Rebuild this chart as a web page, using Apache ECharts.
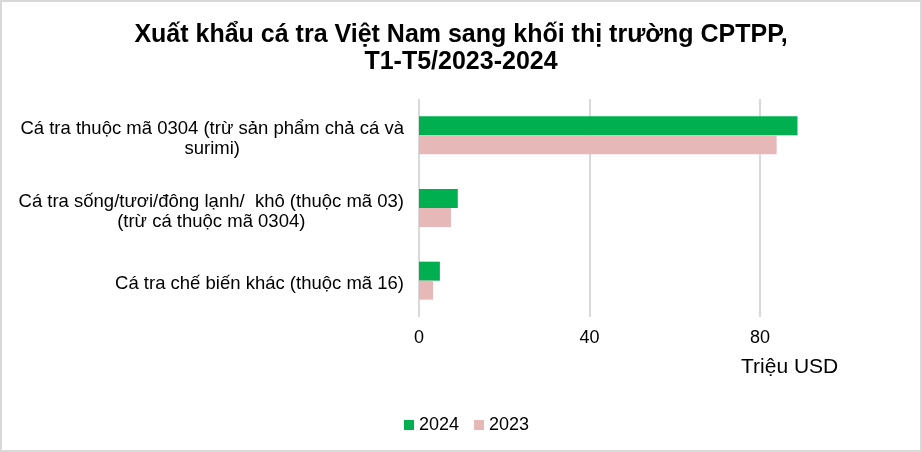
<!DOCTYPE html>
<html>
<head>
<meta charset="utf-8">
<script src="https://cdn.jsdelivr.net/npm/echarts@6/dist/echarts.min.js"></script>
<style>
  html, body { margin: 0; padding: 0; background: #fff; }
  #wrap { position: relative; width: 922px; height: 452px; }
  #chart_bar { width: 922px; height: 452px; }
  #frame { position: absolute; left: 0; top: 0; width: 922px; height: 452px;
           box-sizing: border-box; border: 2px solid #d9d9d9; pointer-events: none; }
</style>
</head>
<body>
<div id="wrap">
  <div id="chart_bar"></div>
  <div id="frame"></div>
</div>
<script>
var categories = [
  'Cá tra thuộc mã 0304 (trừ sản phẩm chả cá và\nsurimi)',
  'Cá tra sống/tươi/đông lạnh/  khô (thuộc mã 03)\n(trừ cá thuộc mã 0304)',
  'Cá tra chế biến khác (thuộc mã 16)'
];
var seriesNames = ['2024', '2023'];
var values2024 = [88.8, 9.1, 4.9];
var values2023 = [83.9, 7.5, 3.3];
var xTicks = { min: 0, max: 100, interval: 40 };

var chartDom = document.getElementById('chart_bar');
var myChart = echarts.init(chartDom);
var font = 'Liberation Sans, Arial, sans-serif';

myChart.setOption({
  backgroundColor: '#fff',
  title: {
    text: 'Xuất khẩu cá tra Việt Nam sang khối thị trường CPTPP,\nT1-T5/2023-2024',
    left: 'center',
    top: 17,
    textStyle: {
      fontFamily: font,
      fontWeight: 'bold',
      fontSize: 25,
      lineHeight: 27,
      color: '#000'
    }
  },
  legend: {
    data: seriesNames,
    left: 399,
    top: 411,
    icon: 'rect',
    itemWidth: 10,
    itemHeight: 10,
    itemGap: 15,
    textStyle: { fontFamily: font, fontSize: 18, color: '#000' }
  },
  grid: { left: 419, top: 99, width: 426.25, height: 218, containLabel: false },
  xAxis: {
    type: 'value',
    min: xTicks.min,
    max: xTicks.max,
    interval: xTicks.interval,
    name: 'Triệu USD',
    nameLocation: 'end',
    nameGap: -7,
    nameTextStyle: {
      fontFamily: font, fontSize: 21, color: '#000',
      align: 'right', verticalAlign: 'top', padding: [40, 0, 0, 0]
    },
    axisLine: { show: false },
    axisTick: { show: false },
    axisLabel: {
      fontFamily: font, fontSize: 18, color: '#000', margin: 12,
      showMaxLabel: false
    },
    splitLine: { show: true, showMaxLine: false, lineStyle: { color: '#d9d9d9', width: 2 } }
  },
  yAxis: {
    type: 'category',
    inverse: true,
    data: categories,
    axisLine: { show: false },
    axisTick: { show: false },
    axisLabel: {
      margin: 15,
      formatter: function (v) { return '{c|' + v + '}'; },
      rich: {
        c: { fontFamily: font, fontSize: 18.5, lineHeight: 20, color: '#000', align: 'center', padding: [7, 0, 0, 0] }
      }
    }
  },
  series: [
    {
      name: seriesNames[0],
      type: 'bar',
      data: values2024,
      barWidth: 19,
      barGap: '0%',
      itemStyle: { color: '#00b050' }
    },
    {
      name: seriesNames[1],
      type: 'bar',
      data: values2023,
      barWidth: 19,
      barGap: '0%',
      itemStyle: { color: '#e6b8b7' }
    }
  ]
});
window.addEventListener('resize', function () { myChart.resize(); });
</script>
</body>
</html>
